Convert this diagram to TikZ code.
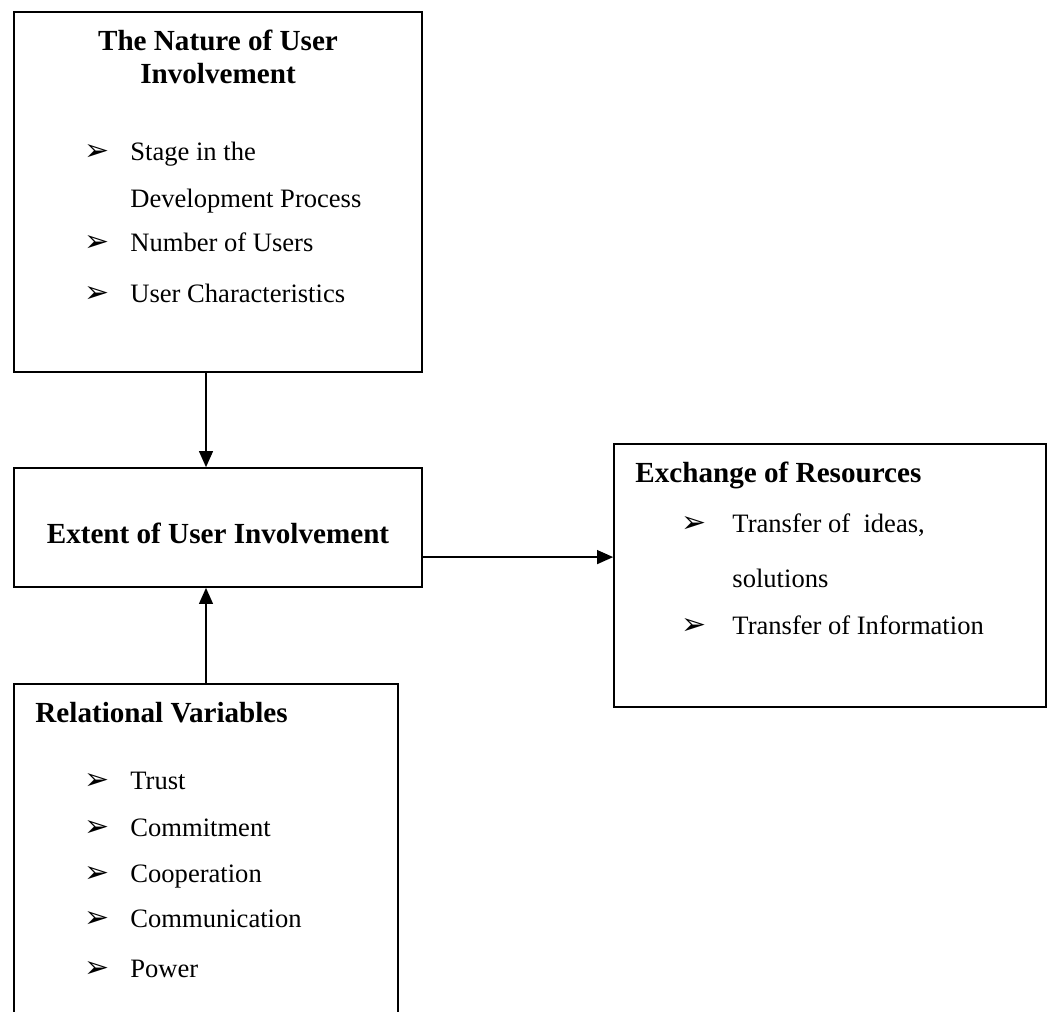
\documentclass[tikz,border=0pt]{standalone}
\usepackage{fontspec}
\setmainfont{Liberation Serif}
\newfontfamily\dingfont{DejaVu Sans}
\usetikzlibrary{positioning, arrows.meta}

\newcommand\pxu{0.4667pt}

\tikzset{
    box/.style={draw, line width=0.8pt, rectangle, inner sep=0pt},
    hd/.style={font=\fontsize{13.6}{16}\selectfont\bfseries, inner sep=0pt},
    itm/.style={font=\fontsize{12.4}{15}\selectfont, inner sep=0pt, anchor=base west},
    bul/.style={font=\dingfont\fontsize{14}{16}\selectfont, inner sep=0pt, anchor=base west},
    arr/.style={line width=0.7pt, -{Triangle[length=7.5pt, width=6.5pt]}}
}

\begin{document}
\begin{tikzpicture}[x=\pxu, y=-\pxu]
        \useasboundingbox (0,0) rectangle (1047,1011);
        \clip (0,0) rectangle (1047,1011);
        % boxes
        \node[box, minimum width=408*\pxu, minimum height=360*\pxu] (nature) at (218,192) {};
        \node[box, minimum width=408*\pxu, minimum height=119*\pxu] (extent) at (218,527.5) {};
        \node[box, minimum width=432*\pxu, minimum height=263*\pxu] (exchange) at (830,575.5) {};
        \node[box, minimum width=384*\pxu, minimum height=360*\pxu] (relational) at (206,864) {};
        % titles
        \node[hd, anchor=base] (natT1) at (218,50) {The Nature of User};
        \node[hd, anchor=base] (natT2) at (218,83) {Involvement};
        \node[hd, anchor=base] (extT) at (218,543) {Extent of User Involvement};
        \node[hd, anchor=base west] (excT) at (635,482) {Exchange of Resources};
        \node[hd, anchor=base west] (relT) at (35,722) {Relational Variables};
        % items
        \foreach \n/\y/\t in {a/160/{Stage in the}, b/207/{Development Process}, c/251/{Number of Users}, d/302/{User Characteristics}}
        {
            \node[itm] (nat-\n) at (130,\y) {\t};
        }
        \foreach \n/\y in {a/160, c/251, d/302}
        {
            \node[bul] (natB-\n) at (84,\y) {➢};
        }
        \foreach \n/\y/\t in {a/532/{Transfer of\ \ ideas,}, b/587/{solutions}, c/634/{Transfer of Information}}
        {
            \node[itm] (exc-\n) at (732,\y) {\t};
        }
        \foreach \n/\y in {a/532, c/634}
        {
            \node[bul] (excB-\n) at (681,\y) {➢};
        }
        \foreach \n/\y/\t in {a/789/Trust, b/836/Commitment, c/882/Cooperation, d/927/Communication, e/977/Power}
        {
            \node[itm] (rel-\n) at (130,\y) {\t};
            \node[bul] (relB-\n) at (84,\y) {➢};
        }
        % connectors
        \draw[arr] (nature.south -| relational.north) -- (extent.north -| relational.north);
        \draw[arr] (relational.north) -- (extent.south -| relational.north);
        \coordinate (out) at ([yshift=-13.8pt]extent.east);
        \draw[arr] (out) -- (out -| exchange.west);
\end{tikzpicture}
\end{document}
